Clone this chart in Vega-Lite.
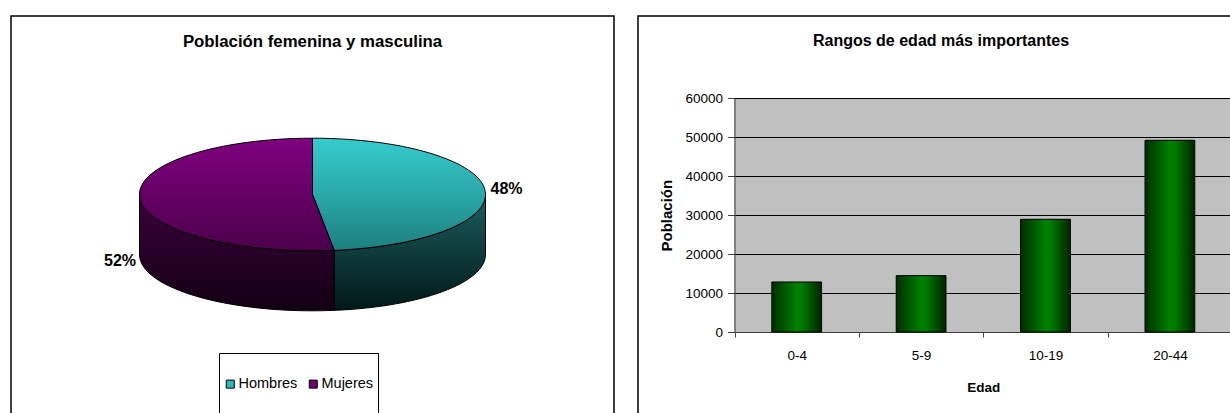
{
  "$schema": "https://vega.github.io/schema/vega-lite/v6.json",
  "background": "white",
  "padding": {"left": 10, "top": 15, "right": 0, "bottom": 0},
  "bounds": "flush",
  "spacing": 24,
  "config": {
    "font": "Liberation Sans",
    "view": {"stroke": "black", "strokeWidth": 1.5}
  },
  "datasets": {
    "sexo": [
      {"sexo": "Hombres", "proporcion": 0.48},
      {"sexo": "Mujeres", "proporcion": 0.52}
    ],
    "edad": [
      {"edad": "0-4", "poblacion": 12840},
      {"edad": "5-9", "poblacion": 14470},
      {"edad": "10-19", "poblacion": 28930},
      {"edad": "20-44", "poblacion": 49220}
    ]
  },
  "hconcat": [
    {
      "width": 603,
      "height": 420,
      "view": {"stroke": "black", "strokeWidth": 1.5, "fill": "white"},
      "title": {"text": "Población femenina y masculina", "fontSize": 16.8, "fontWeight": "bold", "color": "black", "anchor": "middle", "frame": "group", "baseline": "middle", "offset": -42.4},
      "data": {"name": "sexo"},
      "layer": [
        {
          "transform": [{"filter": "datum.sexo === 'Hombres'"}],
          "mark": {"type": "point", "shape": "M1.73,-0.315C1.73,-0.0314,1.0815,0.2081,0.2168,0.2436L0.2168,0.8436C1.0815,0.8081,1.73,0.5686,1.73,0.285Z", "size": 40000, "filled": true, "opacity": 1,
            "fill": {"gradient": "linear", "x1": 0, "y1": 0, "x2": 0, "y2": 1, "stops": [{"offset": 0, "color": "#1c5e5e"}, {"offset": 1, "color": "#001818"}]},
            "stroke": "black", "strokeWidth": 1},
          "encoding": {}
        },
        {
          "transform": [{"filter": "datum.sexo === 'Mujeres'"}],
          "mark": {"type": "point", "shape": "M0.2168,0.2436C-0.8165,0.2861,-1.73,0.0239,-1.73,-0.315L-1.73,0.285C-1.73,0.6239,-0.8165,0.8861,0.2168,0.8436Z", "size": 40000, "filled": true, "opacity": 1,
            "fill": {"gradient": "linear", "x1": 0, "y1": 0, "x2": 0, "y2": 1, "stops": [{"offset": 0, "color": "#3c003c"}, {"offset": 1, "color": "#120012"}]},
            "stroke": "black", "strokeWidth": 1},
          "encoding": {}
        },
        {
          "transform": [{"filter": "datum.sexo === 'Hombres'"}],
          "mark": {"type": "point", "shape": "M0,-0.315L0,-0.878C0.9554,-0.878,1.73,-0.6259,1.73,-0.315C1.73,-0.0314,1.0815,0.2081,0.2168,0.2436Z", "size": 40000, "filled": true, "opacity": 1,
            "fill": {"gradient": "linear", "x1": 0, "y1": 0, "x2": 0, "y2": 1, "stops": [{"offset": 0, "color": "#35cccc"}, {"offset": 0.5, "color": "#2aa9a9"}, {"offset": 1, "color": "#1d7e7e"}]},
            "stroke": "black", "strokeWidth": 1},
          "encoding": {}
        },
        {
          "transform": [{"filter": "datum.sexo === 'Mujeres'"}],
          "mark": {"type": "point", "shape": "M0,-0.315L0.2168,0.2436C-0.8165,0.2861,-1.73,0.0239,-1.73,-0.315C-1.73,-0.6259,-0.9554,-0.878,0,-0.878Z", "size": 40000, "filled": true, "opacity": 1,
            "fill": {"gradient": "linear", "x1": 0, "y1": 0, "x2": 0, "y2": 1, "stops": [{"offset": 0, "color": "#800080"}, {"offset": 1, "color": "#4b004b"}]},
            "stroke": "black", "strokeWidth": 1},
          "encoding": {}
        },
        {
          "transform": [{"filter": "datum.sexo === 'Hombres'"}],
          "mark": {"type": "text", "dx": 194, "dy": -37, "fontSize": 16, "fontWeight": "bold", "color": "black", "align": "center", "baseline": "middle"},
          "encoding": {"text": {"field": "proporcion", "type": "quantitative", "format": ".0%"}}
        },
        {
          "transform": [{"filter": "datum.sexo === 'Mujeres'"}],
          "mark": {"type": "text", "dx": -192.5, "dy": 35, "fontSize": 16, "fontWeight": "bold", "color": "black", "align": "center", "baseline": "middle"},
          "encoding": {"text": {"field": "proporcion", "type": "quantitative", "format": ".0%"}}
        },
        {
          "mark": {"type": "point", "shape": "square", "filled": true, "size": 0, "opacity": 1},
          "encoding": {
            "color": {
              "field": "sexo", "type": "nominal",
              "scale": {"domain": ["Hombres", "Mujeres"], "range": ["#2fbaba", "#6e006e"]},
              "legend": {
                "orient": "none", "legendX": 208, "legendY": 337, "direction": "horizontal",
                "title": " ", "titleFontSize": 14, "titlePadding": 5.75, "titleOrient": "top",
                "padding": 4, "strokeColor": "black", "fillColor": "white",
                "symbolType": "square", "symbolSize": 64, "symbolStrokeColor": "black", "symbolStrokeWidth": 1, "symbolOpacity": 1,
                "labelFontSize": 14.5, "labelColor": "black", "labelOffset": 1, "columnPadding": 8,
                "labelExpr": "[datum.label, '', '']"
              }
            }
          }
        }
      ]
    },
    {
      "width": 606,
      "height": 420,
      "view": {"stroke": "black", "strokeWidth": 1.5, "fill": "white"},
      "title": {"text": "Rangos de edad más importantes", "fontSize": 16, "fontWeight": "bold", "color": "black", "anchor": "middle", "frame": "group", "baseline": "middle", "offset": -41},
      "data": {"name": "edad"},
      "resolve": {"axis": {"x": "independent", "y": "independent"}},
      "layer": [
        {
          "mark": {"type": "bar", "width": {"band": 0.4}, "stroke": "black", "strokeWidth": 1,
            "fill": {"gradient": "linear", "x1": 0, "y1": 0, "x2": 1, "y2": 0, "stops": [{"offset": 0, "color": "#002e00"}, {"offset": 0.5, "color": "#008000"}, {"offset": 0.6, "color": "#007a00"}, {"offset": 1, "color": "#002400"}]}},
          "encoding": {
            "x": {
              "field": "edad", "type": "nominal", "sort": ["0-4", "5-9", "10-19", "20-44"],
              "scale": {"range": [96.5, 594.1], "paddingInner": 0, "paddingOuter": 0},
              "axis": {"orient": "bottom", "offset": -104, "tickBand": "extent", "grid": false,
                "domainColor": "#404040", "domainWidth": 1, "tickColor": "#404040", "tickSize": 5,
                "labelFontSize": 13.5, "labelColor": "black", "labelPadding": 11, "labelAngle": 0,
                "title": "Edad", "titleFontSize": 13.5, "titleFontWeight": "bold", "titleColor": "black", "titlePadding": 19}
            },
            "y": {
              "field": "poblacion", "type": "quantitative",
              "scale": {"domain": [0, 60000], "range": [316, 82.3], "nice": false},
              "axis": {"orient": "left", "offset": -96.5, "values": [0, 10000, 20000, 30000, 40000, 50000, 60000], "format": "d",
                "grid": true, "gridColor": "black", "gridWidth": 1,
                "domainColor": "#404040", "tickColor": "#404040", "tickSize": 7, "labelPadding": 5,
                "labelFontSize": 13.5, "labelColor": "black",
                "title": "Población", "titleFontSize": 15, "titleFontWeight": "bold", "titleColor": "black", "titlePadding": 10}
            }
          }
        },
        {
          "mark": {"type": "bar", "opacity": 0},
          "encoding": {
            "x": {
              "field": "edad", "type": "nominal", "sort": ["0-4", "5-9", "10-19", "20-44"],
              "scale": {"range": [96.5, 594.1], "paddingInner": 0, "paddingOuter": 0},
              "axis": {"orient": "top", "tickBand": "center", "grid": true, "gridColor": "#c0c0c0", "gridWidth": 125,
                "domain": false, "ticks": false, "labels": false, "title": null}
            },
            "y": {
              "field": "poblacion", "type": "quantitative",
              "scale": {"domain": [0, 60000], "range": [316, 82.3], "nice": false},
              "axis": null
            }
          }
        }
      ]
    }
  ]
}
